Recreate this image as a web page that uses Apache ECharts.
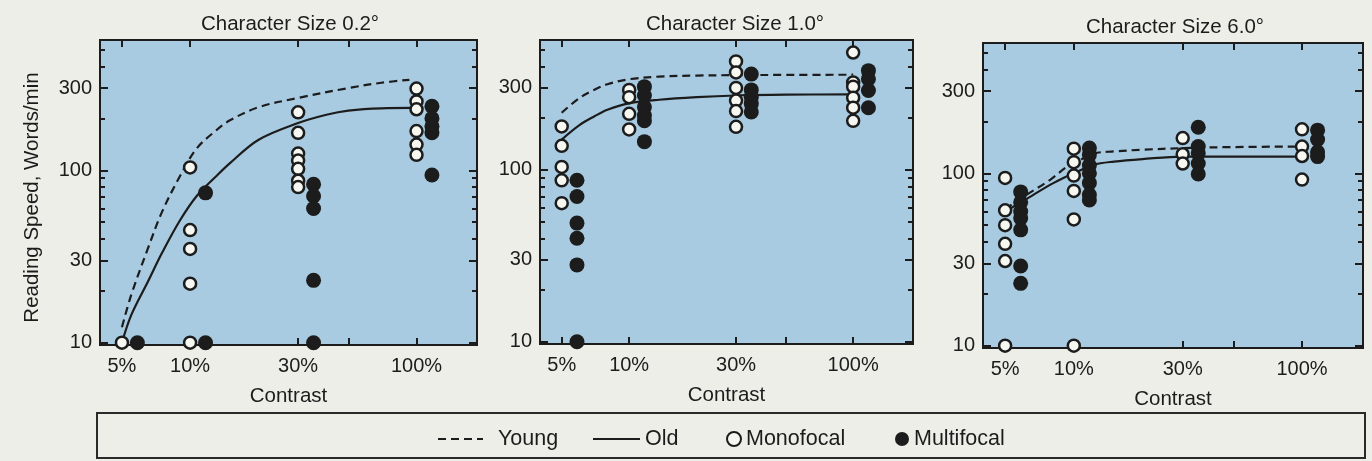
<!DOCTYPE html>
<html><head><meta charset="utf-8">
<script src="https://cdn.jsdelivr.net/npm/echarts@6/dist/echarts.min.js"></script>
<style>html,body{margin:0;padding:0;background:#eeeee8;}#c{width:1372px;height:461px;}</style>
</head><body><div id="c"></div>
<script>
// ---------- data ----------
const panelTitles = ['Character Size 0.2°', 'Character Size 1.0°', 'Character Size 6.0°'];
const contrastLevels = [5, 10, 30, 100];
const xTickValues = [5, 10, 30, 50, 100];
const xLabelValues = [5, 10, 30, 100];
const yMajorTicks = [10, 30, 100, 300];
const yMinorTicks = [20, 40, 50, 60, 70, 80, 90, 200, 400, 500];

// reading speed per contrast level (5%, 10%, 30%, 100%)
const mono02 = [[10], [104, 45, 35, 22, 10], [217, 165, 125, 114, 102, 87, 80], [298, 251, 226, 169, 141, 123]];
const multi02 = [[10], [74, 10], [83, 71, 60, 23, 10], [235, 200, 180, 165, 94]];
const mono10 = [[179, 138, 104, 87, 64], [292, 265, 212, 172], [428, 369, 300, 253, 220, 178], [482, 323, 305, 263, 230, 193]];
const multi10 = [[87, 70, 49, 40, 28, 10], [305, 271, 232, 207, 193, 146], [361, 292, 265, 243, 217], [378, 338, 290, 230]];
const mono60 = [[94, 61, 50, 39, 31, 10], [139, 116, 97, 79, 54, 10], [160, 129, 114], [180, 143, 126, 92]];
const multi60 = [[78, 68, 60, 55, 47, 29, 23], [140, 128, 111, 100, 88, 75, 70], [185, 143, 131, 114, 99], [178, 157, 133, 125]];

// fitted curves
const youngContrast02 = [5, 5.5, 6.5, 7.5, 9, 10.7, 13, 15, 20, 30, 50, 70, 93];
const young02 = [12.3, 19, 35, 57, 92, 134, 170, 195, 232, 263, 300, 322, 335];
const oldContrast02 = [5, 5.5, 6.5, 7.5, 9, 10.7, 13, 15, 20, 30, 40, 50, 70, 95];
const old02 = [10, 14.5, 22.5, 33, 51, 71, 92, 110, 150, 188, 210, 222, 229, 230];
const curveContrast10 = [5, 6, 7, 8, 10, 13.6, 20, 30, 50, 100];
const young10 = [215, 262, 293, 315, 337, 349, 354, 356, 357, 358];
const old10 = [150, 182, 205, 224, 244, 256, 265, 271, 274, 275];
const curveContrast60 = [5, 6.1, 7.9, 9.3, 10, 12.2, 15, 20, 30, 50, 100];
const young60 = [62, 74, 92, 109, 114, 130, 134, 137, 140, 142, 143];
const old60 = [60, 70, 86, 96, 100, 112, 117, 121, 125, 125, 125];

// ---------- style ----------
const INK = '#1c1c1c';
const FONT = 'Liberation Sans, Arial, sans-serif';
const PLOT_BG = '#a8cbe2';
const MULTI_SHIFT = 1.17; // horizontal offset of multifocal column
const grids = [
  {left: 100, top: 40, width: 377, height: 305},
  {left: 540, top: 40, width: 373, height: 304},
  {left: 983, top: 43, width: 380, height: 305}
];
const titlePos = [{x: 285, y: 9}, {x: 730, y: 9}, {x: 1170, y: 12}];

const panels = [
  {mono: mono02, multi: multi02, yc: youngContrast02, y: young02, oc: oldContrast02, o: old02},
  {mono: mono10, multi: multi10, yc: curveContrast10, y: young10, oc: curveContrast10, o: old10},
  {mono: mono60, multi: multi60, yc: curveContrast60, y: young60, oc: curveContrast60, o: old60}
];

const txt = {fontFamily: FONT, color: INK, fontSize: 20};
const nameTxt = {fontFamily: FONT, color: INK, fontSize: 20.5};
const xAxis = [], yAxis = [], series = [], title = [];

grids.forEach((g, i) => {
  title.push({text: panelTitles[i], left: titlePos[i].x, top: titlePos[i].y, textAlign: 'center',
    textStyle: Object.assign({}, txt, {fontWeight: 'normal', fontSize: 20.5})});
  const xb = {type: 'log', logBase: 10, min: 4, max: 185, gridIndex: i,
    axisLine: {show: false, onZero: false}, splitLine: {show: false},
    axisTick: {show: true, inside: true, length: 7, lineStyle: {color: INK, width: 2}, customValues: xTickValues}};
  xAxis.push(Object.assign({}, xb, {position: 'bottom',
    axisLabel: Object.assign({}, txt, {show: true, customValues: xLabelValues, margin: 11, formatter: v => Math.round(v) + '%'}),
    name: 'Contrast', nameLocation: 'middle', nameGap: 41, nameTextStyle: nameTxt}));
  xAxis.push(Object.assign({}, xb, {position: 'top', axisLabel: {show: false}}));

  const yb = {type: 'log', logBase: 10, min: 9.7, max: 570, gridIndex: i,
    axisLine: {show: false, onZero: false}, splitLine: {show: false}};
  const major = {show: true, inside: true, length: 8, lineStyle: {color: INK, width: 2}, customValues: yMajorTicks};
  const minor = {show: true, inside: true, length: 5, lineStyle: {color: INK, width: 2}, customValues: yMinorTicks};
  yAxis.push(Object.assign({}, yb, {position: 'left', axisTick: major,
    axisLabel: Object.assign({}, txt, {customValues: yMajorTicks, margin: 8, formatter: v => String(Math.round(v))}),
    name: i === 0 ? 'Reading Speed, Words/min' : '', nameLocation: 'middle', nameGap: 57,
    nameTextStyle: Object.assign({}, nameTxt, {padding: [0, 10, 0, 0]})}));
  yAxis.push(Object.assign({}, yb, {position: 'left', axisTick: minor, axisLabel: {show: false}}));
  yAxis.push(Object.assign({}, yb, {position: 'right', axisTick: major, axisLabel: {show: false}}));
  yAxis.push(Object.assign({}, yb, {position: 'right', axisTick: minor, axisLabel: {show: false}}));

  const p = panels[i];
  const common = {xAxisIndex: 2 * i, yAxisIndex: 4 * i, silent: true};
  series.push(Object.assign({}, common, {name: 'Young', type: 'line', symbol: 'none', smooth: 0.35, z: 2,
    data: p.yc.map((c, k) => [c, p.y[k]]), lineStyle: {color: INK, width: 2.2, type: [8, 5]}, itemStyle: {color: INK}}));
  series.push(Object.assign({}, common, {name: 'Old', type: 'line', symbol: 'none', smooth: 0.35, z: 2,
    data: p.oc.map((c, k) => [c, p.o[k]]), lineStyle: {color: INK, width: 2.2}, itemStyle: {color: INK}}));
  series.push(Object.assign({}, common, {name: 'Monofocal', type: 'scatter', symbol: 'circle', symbolSize: 12, z: 4,
    data: p.mono.flatMap((vals, k) => vals.map(v => [contrastLevels[k], v])),
    itemStyle: {color: '#f7f7f2', borderColor: INK, borderWidth: 2.5, opacity: 1}}));
  series.push(Object.assign({}, common, {name: 'Multifocal', type: 'scatter', symbol: 'circle', symbolSize: 15, z: 3,
    data: p.multi.flatMap((vals, k) => vals.map(v => [contrastLevels[k] * MULTI_SHIFT, v])),
    itemStyle: {color: INK, opacity: 1}}));
});

const legTxt = Object.assign({}, txt, {fontSize: 21.5});
const hideSym = {color: 'rgba(0,0,0,0)', borderWidth: 0, opacity: 0};
const legendBase = {top: 428, itemHeight: 14, orient: 'horizontal', selectedMode: false, textStyle: legTxt, padding: 0};
const legend = [
  Object.assign({}, legendBase, {data: ['Young'], left: 437, itemWidth: 45, itemStyle: hideSym,
    textStyle: Object.assign({}, legTxt, {padding: [0, 0, 0, 10]})}),
  Object.assign({}, legendBase, {data: ['Old'], left: 592, itemWidth: 47, itemStyle: hideSym}),
  Object.assign({}, legendBase, {data: ['Monofocal'], left: 726, itemWidth: 14}),
  Object.assign({}, legendBase, {data: ['Multifocal'], left: 895, itemWidth: 14})
];

const chart = echarts.init(document.getElementById('c'), null, {renderer: 'canvas'});
chart.setOption({
  backgroundColor: '#eeeee8',
  animation: false,
  title, legend,
  grid: grids.map(g => Object.assign({}, g, {show: true, backgroundColor: PLOT_BG, borderColor: INK, borderWidth: 2, containLabel: false})),
  xAxis, yAxis, series,
  graphic: [{type: 'rect', shape: {x: 97, y: 413, width: 1268, height: 45}, style: {fill: 'none', stroke: '#2a2a2a', lineWidth: 2}, silent: true}]
});
</script></body></html>
